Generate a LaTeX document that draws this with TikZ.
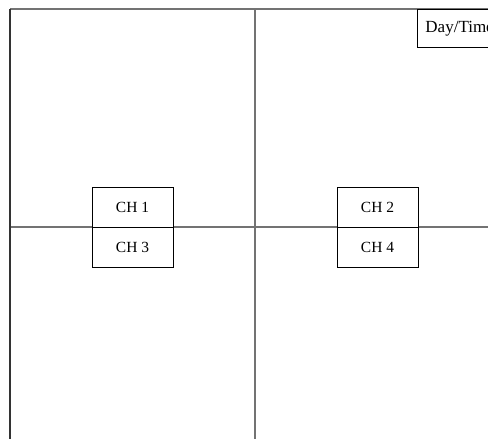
\documentclass[tikz,border=0pt]{standalone}
\usepackage{fontspec}
\setmainfont{Liberation Serif}
\begin{document}
\begin{tikzpicture}[x=1pt,y=1pt,
  gridline/.style={draw=black!55,line width=1.4pt},
  chbox/.style={draw=black,line width=0.9pt,fill=white,minimum width=81pt,minimum height=40pt,inner sep=0pt,font=\fontsize{15.5}{18}\selectfont},
  dtbox/.style={draw=black,line width=0.9pt,fill=white,anchor=north west,minimum height=38pt,minimum width=100pt,inner sep=0pt,text width=96pt,align=left,font=\fontsize{17}{20}\selectfont}]
\useasboundingbox (0,0) rectangle (488,439);
\clip (0,0) rectangle (488,439);
\fill[white] (0,0) rectangle (488,439);
\coordinate (tl) at (10,430);
\coordinate (tr) at (490,430);
\coordinate (bl) at (10,-2);
\coordinate (tm) at (255,430);
\coordinate (bm) at (255,-2);
\coordinate (ml) at (10,212);
\coordinate (mr) at (490,212);
\draw[gridline] (tl) -- (tr);
\draw[gridline] (tm) -- (bm);
\draw[gridline] (ml) -- (mr);
\draw[draw=black!80,line width=1.4pt] (tl) -- (bl);
\node[chbox] (ch1) at (132.5,231.5) {CH 1};
\node[chbox] (ch3) at (132.5,191.5) {CH 3};
\node[chbox] (ch2) at (377.5,231.5) {CH 2};
\node[chbox] (ch4) at (377.5,191.5) {CH 4};
\node[dtbox] (dt) at (417,430) {\hspace*{6pt}Day/Time};
\end{tikzpicture}
\end{document}
